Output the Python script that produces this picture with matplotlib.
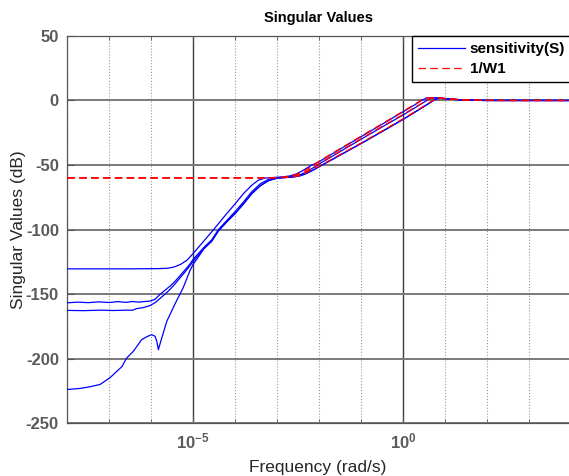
import matplotlib
matplotlib.use("Agg")
import matplotlib.pyplot as plt
from matplotlib.ticker import FixedLocator, NullFormatter

plt.rcParams['font.family'] = ['Liberation Sans', 'DejaVu Sans']
plt.rcParams['mathtext.fontset'] = 'custom'
plt.rcParams['mathtext.bf'] = 'Liberation Sans:bold'
plt.rcParams['mathtext.rm'] = 'Liberation Sans'
plt.rcParams['axes.unicode_minus'] = False

# ---- data: log10(frequency) and singular values in dB ----
# low-frequency parts of the four sensitivity singular values
a_low_lw = [-8.0, -6.5, -5.8, -5.6, -5.45, -5.3, -5.15]
a_low_db = [-130.5, -130.5, -130.3, -130.0, -129.0, -127.0, -123.8]

b_low_lw = [-8.0, -7.75, -7.5, -7.25, -7.0, -6.8, -6.6, -6.45, -6.3, -6.15,
            -6.03, -5.91, -5.79, -5.67, -5.55, -5.43, -5.32, -5.2, -5.08]
b_low_db = [-156.8, -156.3, -156.7, -156.1, -156.6, -155.9, -156.5, -155.8, -156.3, -155.8,
            -155.5, -154.1, -150.2, -147.0, -143.8, -140.0, -135.9, -131.5, -126.8]

c_low_lw = [-8.0, -7.6, -7.2, -6.9, -6.6, -6.45, -6.35, -6.2, -6.03, -5.9,
            -5.79, -5.67, -5.55, -5.43, -5.32, -5.2, -5.08]
c_low_db = [-162.7, -162.9, -162.5, -162.8, -162.5, -162.6, -161.3, -160.6, -159.0, -156.5,
            -153.4, -150.0, -146.3, -142.0, -137.7, -133.0, -128.1]

d_low_lw = [-8.0, -7.7, -7.46, -7.22, -6.98, -6.84, -6.7, -6.59, -6.43, -6.33,
            -6.23, -6.1, -5.99, -5.91, -5.87, -5.83, -5.79, -5.75, -5.63, -5.44,
            -5.24, -5.08, -5.0, -4.84]
d_low_db = [-224.0, -223.2, -221.9, -220.1, -214.8, -210.5, -206.3, -199.8, -194.5, -190.0,
            -185.4, -183.0, -181.5, -182.8, -186.5, -193.2, -188.5, -184.1, -171.1, -158.0,
            -145.1, -132.0, -126.8, -119.5]

# higher-frequency tracks (the curves merge into three lines)
t1_lw = [-5.0, -4.75, -4.5, -4.25, -4.0, -3.8, -3.6, -3.45, -3.3, -3.1,
         -2.9, -2.7, -2.55, -2.4, -2.2, -2.0, -1.5, -1.0, -0.5, 0.0,
         0.3, 0.45, 0.55, 0.7, 0.9, 1.2, 1.5, 1.8, 2.5, 3.95]
t1_db = [-118.5, -109.0, -99.5, -89.5, -80.0, -72.0, -65.5, -61.8, -60.2, -59.7,
         -59.3, -58.5, -57.0, -54.5, -50.5, -47.4, -37.7, -28.0, -18.4, -8.7,
         -2.9, 0.3, 1.9, 2.2, 1.7, 0.8, 0.3, 0.05, 0.0, 0.0]

t2_lw = [-5.0, -4.75, -4.56, -4.4, -4.2, -4.0, -3.8, -3.6, -3.4, -3.2,
         -3.0, -2.8, -2.6, -2.45, -2.3, -2.15, -2.0, -1.5, -1.0, -0.5,
         0.0, 0.3, 0.5, 0.6, 0.7, 0.85, 1.0, 1.3, 1.6, 2.0, 3.95]
t2_db = [-123.0, -114.0, -108.0, -100.0, -93.0, -86.0, -78.5, -70.5, -64.5, -61.0,
         -59.8, -59.5, -58.8, -57.5, -55.2, -52.3, -49.2, -39.6, -30.0, -20.5,
         -11.2, -5.3, -1.2, 0.8, 2.0, 2.0, 1.4, 0.6, 0.15, 0.02, 0.0]

t3_lw = [-5.0, -4.75, -4.56, -4.4, -4.2, -4.0, -3.8, -3.6, -3.4, -3.2,
         -3.0, -2.8, -2.6, -2.45, -2.3, -2.15, -2.0, -1.5, -1.0, -0.5,
         0.0, 0.3, 0.5, 0.65, 0.75, 0.85, 1.0, 1.3, 1.6, 2.0, 3.95]
t3_db = [-124.5, -115.0, -109.0, -101.0, -94.0, -87.5, -80.0, -72.0, -66.0, -62.0,
         -60.2, -59.7, -59.2, -58.3, -56.5, -54.0, -51.3, -42.3, -33.3, -24.0,
         -14.6, -8.6, -4.6, -1.5, 0.6, 1.7, 1.5, 0.7, 0.2, 0.03, 0.0]

# 1/W1 (three singular values)
w_lw = [-8.0, -3.4, -3.2, -3.0, -2.8, -2.65, -2.5, -2.35, -2.2, -2.0,
        -1.5, -1.0, -0.5, 0.0, 0.3, 0.45, 0.55, 0.7, 0.9, 1.2,
        1.5, 1.8, 2.5, 3.95]
w1_db = [-60.0, -60.0, -59.9, -59.7, -59.2, -58.3, -56.8, -54.5, -51.5, -47.0,
         -37.3, -27.6, -18.0, -8.3, -2.5, 0.6, 2.0, 2.2, 1.7, 0.8,
         0.3, 0.05, 0.0, 0.0]
w2_db = [-60.0, -60.0, -59.9, -59.8, -59.5, -58.9, -57.8, -55.8, -52.8, -48.8,
         -39.2, -29.6, -20.1, -10.8, -4.9, -2.1, 0.0, 1.9, 1.9, 1.0,
         0.4, 0.1, 0.0, 0.0]
w3_db = [-60.0, -60.0, -60.0, -59.9, -59.7, -59.3, -58.4, -56.6, -53.8, -50.9,
         -41.9, -32.9, -23.6, -14.2, -8.2, -5.2, -3.2, -0.1, 1.7, 1.0,
         0.4, 0.1, 0.0, 0.0]

y_ticks = [-250, -200, -150, -100, -50, 0, 50]
x_major_exp = [-5, 0]
x_minor_exp = [-8, -7, -6, -4, -3, -2, -1, 1, 2, 3]


def to_freq(lw):
    return [10.0 ** v for v in lw]


def draw_sigma():
    fig = plt.figure(figsize=(5.69, 4.76), dpi=100)
    ax = fig.add_axes([0.1183, 0.1113, 0.8817, 0.8131])

    s_curves = [
        (a_low_lw + t1_lw, a_low_db + t1_db),
        (b_low_lw + t2_lw, b_low_db + t2_db),
        (c_low_lw + t3_lw, c_low_db + t3_db),
        (d_low_lw + t3_lw[1:], d_low_db + t3_db[1:]),
    ]
    for i, (lw, db) in enumerate(s_curves):
        ax.plot(to_freq(lw), db, color='#0000ff', lw=0.9,
                label='sensitivity(S)' if i == 0 else None, zorder=3)

    for i, db in enumerate([w1_db, w2_db, w3_db]):
        ax.plot(to_freq(w_lw), db, color='#ff0000', lw=0.9, dashes=(6, 3.5),
                label='1/W1' if i == 0 else None, zorder=4)

    ax.set_xscale('log')
    ax.set_xlim(1e-8, 10 ** 3.95)
    ax.set_ylim(-250, 50)
    ax.set_yticks(y_ticks)
    ax.xaxis.set_major_locator(FixedLocator([10.0 ** e for e in x_major_exp]))
    ax.xaxis.set_minor_locator(FixedLocator([10.0 ** e for e in x_minor_exp]))
    ax.xaxis.set_minor_formatter(NullFormatter())
    ax.set_xticklabels([r'$\mathbf{10^{%d}}$' % e for e in x_major_exp])

    ax.grid(which='major', axis='y', color='#7a7a7a', lw=1.4, ls='-')
    ax.grid(which='major', axis='x', color='#3c3c3c', lw=1.0, ls='-')
    ax.grid(which='minor', axis='x', color='#9a9a9a', lw=0.8, ls=':')
    ax.set_axisbelow(True)

    ax.tick_params(which='both', direction='in', top=True, right=False,
                   colors='#555555', labelcolor='#5a5a5a', labelsize=12)
    ax.tick_params(which='major', length=5, pad=6)
    ax.tick_params(which='minor', length=3)
    for lab in ax.get_yticklabels():
        lab.set_fontweight('bold')
    for side in ['left', 'bottom', 'top']:
        ax.spines[side].set_color('#555555')
        ax.spines[side].set_linewidth(0.9)
    ax.spines['right'].set_visible(False)

    ax.set_title('Singular Values', fontsize=10.5, fontweight='bold', pad=10)
    ax.set_xlabel('Frequency (rad/s)', fontsize=12.5, color='#262626', labelpad=6)
    ax.set_ylabel('Singular Values (dB)', fontsize=12.5, color='#262626', labelpad=0)

    leg = ax.legend(loc='upper left', bbox_to_anchor=(0.6865, 1.0), borderaxespad=0,
                    fancybox=False, framealpha=1, edgecolor='black',
                    prop={'weight': 'bold', 'size': 11},
                    handlelength=3.1, handletextpad=0.3, borderpad=0.4,
                    labelspacing=0.4)
    leg.get_frame().set_linewidth(1.0)

    fig.savefig('out.png', dpi=100)


if __name__ == "__main__":
    draw_sigma()
